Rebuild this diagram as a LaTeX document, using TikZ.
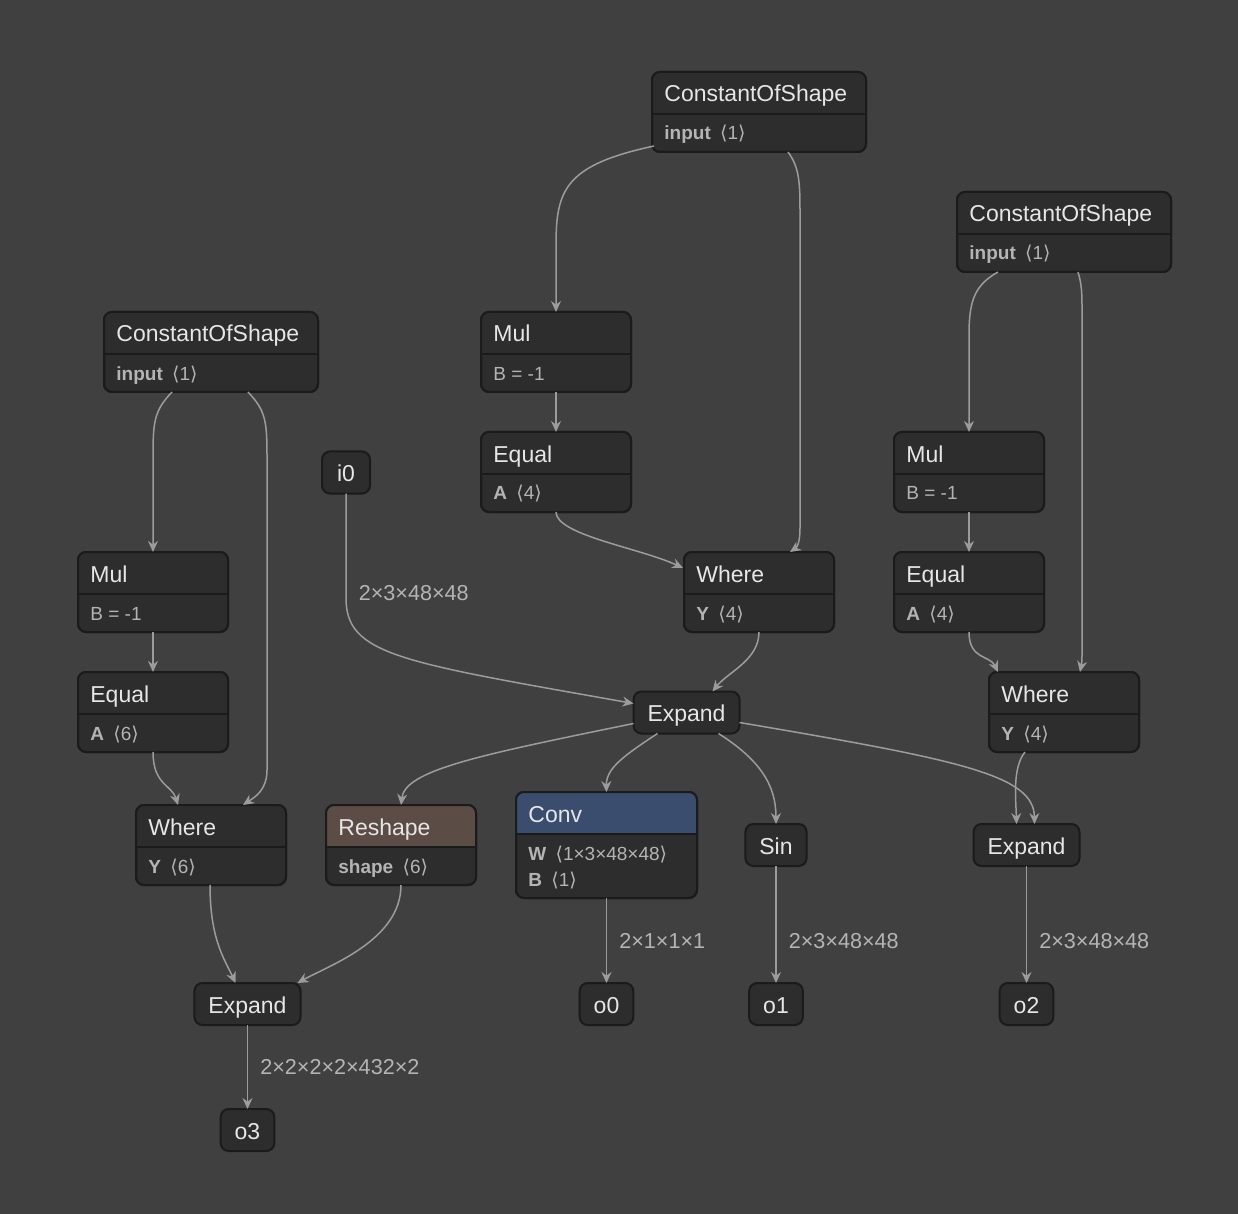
\documentclass[tikz,border=0pt]{standalone}
\usepackage{fontspec}
\setmainfont{Liberation Sans}
\newfontfamily\angfont{DejaVu Sans}
\usepackage{tikz}
\usetikzlibrary{arrows.meta}
\usetikzlibrary{calc}

\definecolor{bggray}{HTML}{404040}
\definecolor{nodefill}{HTML}{2D2D2D}
\definecolor{nodeline}{HTML}{1B1B1B}
\definecolor{titletext}{HTML}{E6E6E6}
\definecolor{attrtext}{HTML}{B4B4B4}
\definecolor{edgegray}{HTML}{9C9C9C}
\definecolor{convhead}{HTML}{3B4D6E}
\definecolor{reshapehead}{HTML}{5B4C46}

\newcommand{\shp}[1]{\hspace{2pt}{\angfont ⟨}#1{\angfont ⟩}}
% #1 name, #2 top left, #3 width, #4 box options, #5 header fill, #6 title, #7 attribute
\newcommand{\opnode}[7]{%
  \node[opbox, minimum width=#3, anchor=north west, #4] (#1) at (#2) {};
  \begin{scope}
    \clip[rounded corners=4pt] (#1.north west) rectangle (#1.south east);
    \fill[#5] (#1.north west) rectangle ([yshift=-21pt]#1.north east);
  \end{scope}
  \draw[opline] (#1.north west) rectangle (#1.south east);
  \draw[opline, sharp corners] ([yshift=-21pt]#1.north west) -- ([yshift=-21pt]#1.north east);
  \node[optitle] at ([xshift=6pt,yshift=-15pt]#1.north west) {#6};
  \node[opattr] at ([xshift=6pt,yshift=-34pt]#1.north west) {#7};
}

\begin{document}
\begin{tikzpicture}[x=0.5pt, y=-0.5pt,
  opline/.style={draw=nodeline, line width=1pt, rounded corners=4pt},
  opbox/.style={opline, fill=nodefill, minimum height=40pt, outer sep=0pt, inner sep=0pt},
  optitle/.style={anchor=base west, inner sep=0pt, text=titletext, font=\fontsize{11.5}{13}\selectfont},
  opattr/.style={anchor=base west, inner sep=0pt, text=attrtext, font=\fontsize{9.5}{11}\selectfont},
  iobox/.style={opline, fill=nodefill, inner xsep=7pt, inner ysep=6pt, text height=9pt, text depth=0pt,
    minimum width=24pt, outer sep=0pt, text=titletext, font=\fontsize{11.5}{13}\selectfont},
  flow/.style={draw=edgegray, line width=0.75pt, -{Stealth[length=5.5pt, width=5pt, inset=1.8pt]}},
  dims/.style={anchor=west, xshift=6pt, inner sep=0pt, text=attrtext, font=\fontsize{10.8}{12}\selectfont}]
\fill[bggray] (0,0) rectangle (1238,1214);
\useasboundingbox (0,0) rectangle (1238,1214);

% operators
\opnode{csa}{652,72}{107pt}{}{nodefill}{ConstantOfShape}{\textbf{input}\ \shp{1}}
\opnode{csb}{957,192}{107pt}{}{nodefill}{ConstantOfShape}{\textbf{input}\ \shp{1}}
\opnode{csc}{104,312}{107pt}{}{nodefill}{ConstantOfShape}{\textbf{input}\ \shp{1}}
\opnode{mula}{481,312}{75pt}{}{nodefill}{Mul}{B = -1}
\opnode{equala}{481,432}{75pt}{}{nodefill}{Equal}{\textbf{A}\ \shp{4}}
\opnode{wherea}{684,552}{75pt}{}{nodefill}{Where}{\textbf{Y}\ \shp{4}}
\opnode{mulb}{894,432}{75pt}{}{nodefill}{Mul}{B = -1}
\opnode{equalb}{894,552}{75pt}{}{nodefill}{Equal}{\textbf{A}\ \shp{4}}
\opnode{whereb}{989,672}{75pt}{}{nodefill}{Where}{\textbf{Y}\ \shp{4}}
\opnode{mulc}{78,552}{75pt}{}{nodefill}{Mul}{B = -1}
\opnode{equalc}{78,672}{75pt}{}{nodefill}{Equal}{\textbf{A}\ \shp{6}}
\opnode{wherec}{136,805}{75pt}{}{nodefill}{Where}{\textbf{Y}\ \shp{6}}
\opnode{reshape}{326,805}{75pt}{}{reshapehead}{Reshape}{\textbf{shape}\ \shp{6}}
\opnode{conv}{516,792}{90.5pt}{minimum height=53pt}{convhead}{Conv}{\textbf{W}\ \shp{1×3×48×48}}
\node[opattr] at ([xshift=6pt,yshift=-47pt]conv.north west) {\textbf{B}\ \shp{1}};

% inputs, outputs and plain operators
\node[iobox] (i0) at (346,472.5) {i0};
\node[iobox] (expanda) at (686.5,712.5) {Expand};
\node[iobox] (sin) at (776,845) {Sin};
\node[iobox] (expandb) at (1026.5,845) {Expand};
\node[iobox] (expandc) at (247.5,1004) {Expand};
\node[iobox] (o0) at (606.5,1004) {o0};
\node[iobox] (o1) at (776,1004) {o1};
\node[iobox] (o2) at (1026.5,1004) {o2};
\node[iobox] (o3) at (247.5,1130) {o3};

% middle branch
\draw[flow] ($(csa.south west)+(2,-6)$) .. controls (565,165) and (556,190) .. (556,245) -- (mula.north);
\draw[flow] ($(csa.south east)+(-78,0)$) .. controls (800,168) and (800,185) .. (800,215) -- (800,528)
  .. controls (800,545) and (796,548) .. ($(wherea.north east)+(-44,0)$);
\draw[flow] (mula.south) -- (equala.north);
\draw[flow] (equala.south) .. controls (556,535) and (640,548) .. ($(wherea.north west)+(-1,16)$);
% right branch
\draw[flow] ($(csb.south west)+(41,0)$) .. controls (975,285) and (969,300) .. (969,335) -- (mulb.north);
\draw[flow] ($(csb.south east)+(-93,0)$) .. controls (1082,285) and (1082,295) .. (1082,310) -- (1082,650)
  .. controls (1082,662) .. ($(whereb.north west)+(91,0)$);
\draw[flow] (mulb.south) -- (equalb.north);
\draw[flow] (equalb.south) .. controls (969,660) and (990,655) .. ($(whereb.north west)+(9,0)$);
% left branch
\draw[flow] ($(csc.south west)+(68,0)$) .. controls (155,410) and (153,420) .. (153,455) -- (mulc.north);
\draw[flow] ($(csc.south west)+(144,0)$) .. controls (265,410) and (267,420) .. (267,455) -- (267,770)
  .. controls (267,790) and (255,797) .. ($(wherec.north west)+(107,0)$);
\draw[flow] (mulc.south) -- (equalc.north);
\draw[flow] (equalc.south) .. controls (153,785) and (172,785) .. ($(wherec.north west)+(42,0)$);

% into and out of the first Expand
\draw[flow] (wherea.south) .. controls (759,660) and (728,672) .. ($(expanda.north)+(26,0)$);
\draw[flow] (i0.south) -- node[dims, pos=0.95] {2×3×48×48} (346,598)
  .. controls (346,655) and (400,662) .. ($(expanda.west)+(0,-9)$);
\draw[flow] ($(expanda.south west)+(0,-10)$) .. controls (480,755) and (405,770) .. (reshape.north);
\draw[flow] ($(expanda.south west)+(24,0)$) .. controls (625,755) and (606,768) .. (conv.north);
\draw[flow] ($(expanda.south east)+(-21,0)$) .. controls (760,760) and (776,785) .. (sin.north);
\draw[flow] ($(expanda.east)+(0,10)$) .. controls (960,760) and (1034,775) .. ($(expandb.north)+(8,0)$);
\draw[flow] ($(whereb.south west)+(36,0)$) .. controls (1012,768) and (1016,800) .. ($(expandb.north)+(-10,0)$);
\draw[flow] ($(wherec.south west)+(74,0)$) .. controls (210,940) and (225,960) .. ($(expandc.north)+(-12,0)$);
\draw[flow] (reshape.south) .. controls (401,940) and (330,965) .. ($(expandc.north east)+(-3,0)$);

% outputs
\draw[flow] (conv.south) -- node[dims] {2×1×1×1} (o0.north);
\draw[flow] (sin.south) -- node[dims, pos=0.64] {2×3×48×48} (o1.north);
\draw[flow] (expandb.south) -- node[dims, pos=0.64] {2×3×48×48} (o2.north);
\draw[flow] (expandc.south) -- node[dims] {2×2×2×2×432×2} (o3.north);
\end{tikzpicture}
\end{document}
